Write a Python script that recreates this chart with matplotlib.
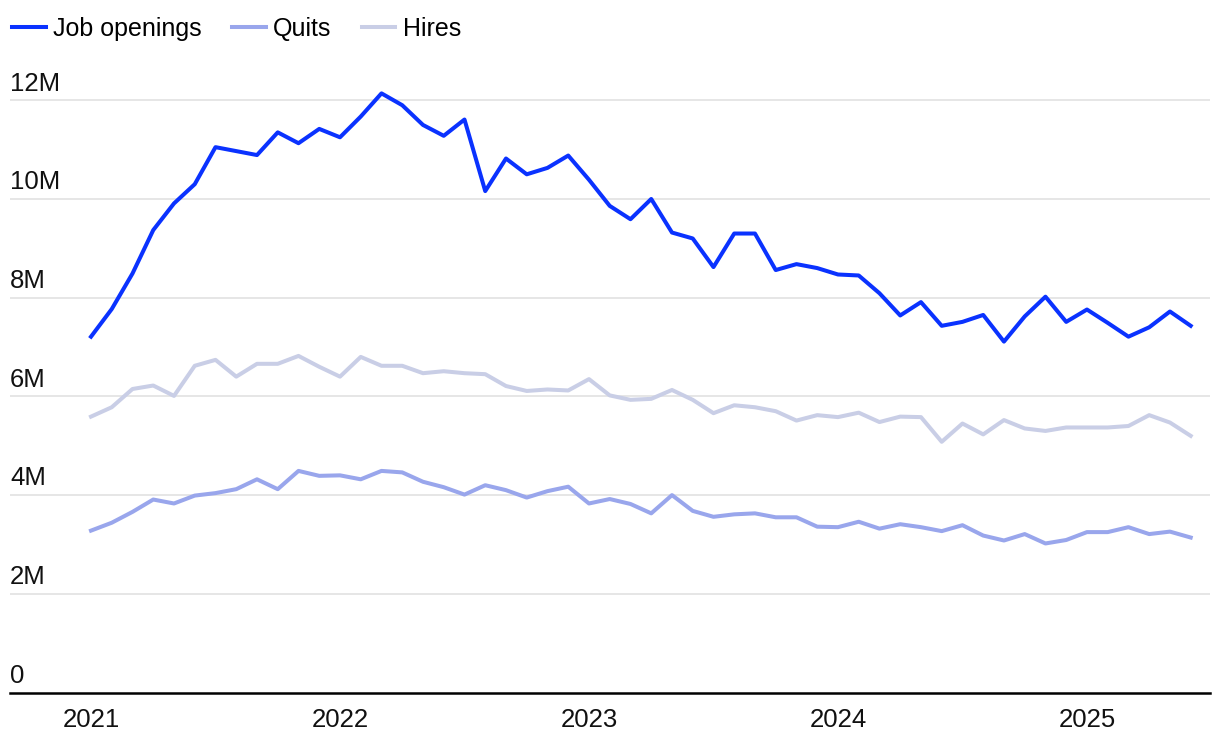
import matplotlib
matplotlib.use("Agg")
import matplotlib.pyplot as plt
import numpy as np

plt.rcParams['font.family'] = ['Liberation Sans', 'DejaVu Sans']

# monthly values, Jan 2021 .. Jun 2025, in millions
job_openings = [7.21, 7.77, 8.49, 9.37, 9.91, 10.30, 11.05, 10.97, 10.89, 11.35, 11.13, 11.42,
                11.25, 11.67, 12.14, 11.90, 11.50, 11.28, 11.61, 10.16, 10.82, 10.50, 10.63, 10.88,
                10.39, 9.86, 9.59, 10.00, 9.32, 9.20, 8.62, 9.30, 9.30, 8.56, 8.68, 8.60,
                8.47, 8.45, 8.09, 7.64, 7.91, 7.43, 7.51, 7.65, 7.11, 7.62, 8.02, 7.51,
                7.76, 7.49, 7.21, 7.40, 7.72, 7.43]
quits = [3.28, 3.44, 3.66, 3.91, 3.83, 3.99, 4.04, 4.12, 4.32, 4.12, 4.49, 4.39,
         4.40, 4.32, 4.49, 4.46, 4.27, 4.16, 4.01, 4.20, 4.10, 3.95, 4.08, 4.17,
         3.83, 3.92, 3.82, 3.63, 4.00, 3.68, 3.56, 3.61, 3.63, 3.55, 3.55, 3.36,
         3.35, 3.46, 3.32, 3.41, 3.35, 3.27, 3.39, 3.18, 3.08, 3.21, 3.02, 3.09,
         3.25, 3.25, 3.35, 3.21, 3.26, 3.14]
hires = [5.59, 5.78, 6.15, 6.22, 6.01, 6.62, 6.74, 6.40, 6.66, 6.66, 6.82, 6.60,
         6.40, 6.80, 6.62, 6.62, 6.47, 6.51, 6.47, 6.45, 6.21, 6.11, 6.14, 6.12,
         6.35, 6.02, 5.93, 5.95, 6.13, 5.93, 5.66, 5.82, 5.78, 5.70, 5.51, 5.62,
         5.58, 5.67, 5.48, 5.59, 5.58, 5.08, 5.45, 5.23, 5.52, 5.35, 5.30, 5.37,
         5.37, 5.37, 5.40, 5.62, 5.47, 5.20]

years = ['2021', '2022', '2023', '2024', '2025']
y_ticks = [0, 2, 4, 6, 8, 10, 12]
y_labels = ['0', '2M', '4M', '6M', '8M', '10M', '12M']

months = np.arange(len(job_openings))

#------------------------------------------------------------------------------
# Plot
fig = plt.figure(figsize=(12.2, 7.42), dpi=100)
ax = fig.add_axes([10/1220, 49.5/742, 1200/1220, (692.5 - 75.6)/742])

ax.plot(months, hires, color='#c9cee6', lw=2.9, solid_joinstyle='round', label='Hires', zorder=3)
ax.plot(months, quits, color='#99a6ec', lw=2.9, solid_joinstyle='round', label='Quits', zorder=3)
ax.plot(months, job_openings, color='#0a32ff', lw=2.9, solid_joinstyle='round',
        label='Job openings', zorder=4)

ax.set_xlim(-3.904, 53.93)
ax.set_ylim(0, 12.5)

for side in ['top', 'right', 'left']:
    ax.spines[side].set_visible(False)
ax.spines['bottom'].set_linewidth(1.8)
ax.spines['bottom'].set_color('#000000')
ax.spines['bottom'].set_zorder(5)

ax.set_yticks(y_ticks[1:])
ax.set_yticklabels([])
ax.tick_params(axis='y', length=0)
ax.grid(axis='y', color='#e6e6e6', lw=1.4)
ax.set_axisbelow(True)

for v, lbl in zip(y_ticks, y_labels):
    ax.annotate(lbl, xy=(0, v), xycoords=('axes fraction', 'data'), xytext=(0, 7),
                textcoords='offset points', ha='left', va='baseline', fontsize=18.5,
                color='#111111')

ax.set_xticks(np.arange(0, 12 * len(years), 12))
ax.set_xticklabels(years, fontsize=18.5, color='#111111')
ax.tick_params(axis='x', length=0, pad=11)

handles, labels = ax.get_legend_handles_labels()
order = [2, 1, 0]
fig.legend([handles[i] for i in order], [labels[i] for i in order],
           loc='upper left', bbox_to_anchor=(2/1220, 1 - 7/742), ncol=3, frameon=False,
           fontsize=18, handlelength=1.35, handletextpad=0.3, columnspacing=1.2,
           borderaxespad=0.2, borderpad=0.2)

fig.savefig('out.png', dpi=100)
